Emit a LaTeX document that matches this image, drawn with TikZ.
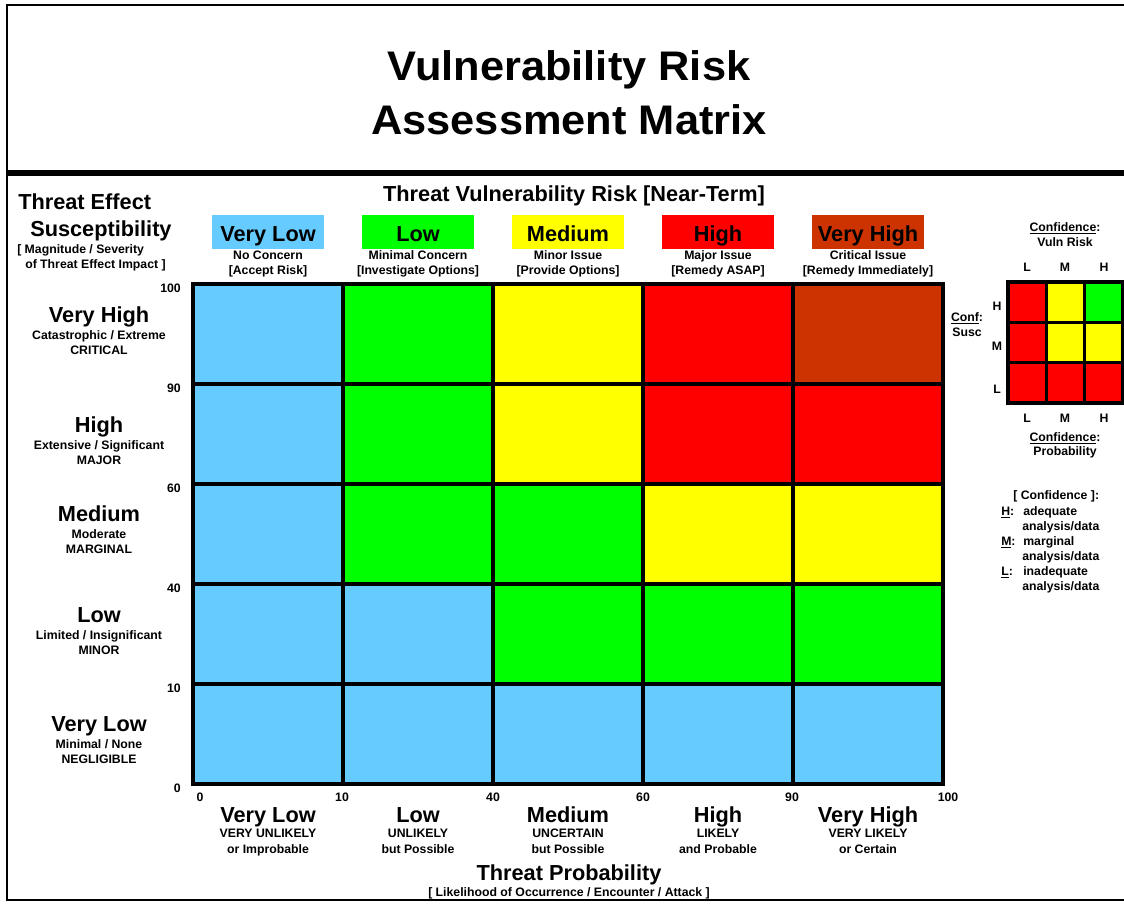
\documentclass[tikz,border=0pt]{standalone}
\usepackage{fontspec}
\setmainfont{Liberation Sans}
\newfontfamily\titlefont[FakeStretch=1.05]{Liberation Sans}
\usepackage{tikz}
\usetikzlibrary{positioning}

\definecolor{vlow}{RGB}{102,204,255}
\definecolor{low}{RGB}{0,255,0}
\definecolor{med}{RGB}{255,255,0}
\definecolor{high}{RGB}{255,0,0}
\definecolor{vhigh}{RGB}{204,51,0}

\newcommand{\bigtxt}{\fontsize{16.3}{19}\selectfont\bfseries}
\newcommand{\smalltxt}{\fontsize{9.2}{11.25}\selectfont\bfseries}
\newcommand{\ttltxt}{\titlefont\fontsize{31}{37}\selectfont\bfseries}

\tikzset{
  big/.style={font=\bigtxt,inner sep=0pt,anchor=base},
  small/.style={font=\smalltxt,inner sep=0pt,anchor=base},
  ttl/.style={font=\ttltxt,inner sep=0pt,anchor=base},
  riskbox/.style={minimum width=84pt,minimum height=25.5pt,inner sep=0pt},
  gridline/.style={line width=2.3pt,line cap=rect},
}

\begin{document}
\begin{tikzpicture}[x=0.75pt,y=-0.75pt]
\useasboundingbox (0,0) rectangle (1124,903);
% frame and title
\draw[line width=1.6pt] (1124,5) -- (7,5) -- (7,900) -- (1124,900);
\draw[line width=4.5pt] (7,173) -- (1124,173);
\node[ttl] (title1) at (569,80) {Vulnerability Risk};
\node[ttl] (title2) at (569,134) {Assessment Matrix};

% risk matrix cells
\foreach \r/\cl in {0/{vlow,low,med,high,vhigh},1/{vlow,low,med,high,high},2/{vlow,low,low,med,med},3/{vlow,vlow,low,low,low},4/{vlow,vlow,vlow,vlow,vlow}}
  \foreach \c [count=\k from 0] in \cl
    \fill[\c] (193+150*\k,284+100*\r) rectangle ++(150,100);
\foreach \i in {0,...,5}
  \draw[gridline] (193+150*\i,284) -- (193+150*\i,784);
\foreach \j in {0,...,5}
  \draw[gridline] (193,284+100*\j) -- (943,284+100*\j);

% axis numbers
\foreach \v [count=\j from 0] in {100,90,60,40,10,0}
  \node[small,anchor=base east] (ynum\j) at (181,292+100*\j) {\v};
\foreach \x/\v [count=\j] in {200/0,342/10,493/40,643/60,792/90,948/100}
  \node[small] (xnum\j) at (\x,801) {\v};

% risk header
\node[big] (riskhead) at (574,201) {Threat Vulnerability Risk [Near-Term]};
\foreach \x/\nm/\col/\lab/\ta/\tb in {268/vl/vlow/Very Low/No Concern/{[Accept Risk]},
    418/l/low/Low/Minimal Concern/{[Investigate Options]},
    568/m/med/Medium/Minor Issue/{[Provide Options]},
    718/h/high/High/Major Issue/{[Remedy ASAP]},
    868/vh/vhigh/Very High/Critical Issue/{[Remedy Immediately]}}{
  \node[riskbox,fill=\col] (box\nm) at (\x,231.5) {};
  \node[big] (lab\nm) at (\x,241) {\lab};
  \node[small] (suba\nm) at (\x,259) {\ta};
  \node[small] (subb\nm) at (\x,274) {\tb};
}

% susceptibility axis
\node[big,anchor=base west] (susc1) at (18,209) {Threat Effect};
\node[big,anchor=base west] (susc2) at (30,236) {Susceptibility};
\node[small,anchor=base west] (susc3) at (17,253) {[ Magnitude / Severity};
\node[small,anchor=base west] (susc4) at (25,268) {of Threat Effect Impact ]};
\foreach \y/\lab/\ta/\tb [count=\j] in {322/Very High/{Catastrophic / Extreme}/CRITICAL,
    432/High/{Extensive / Significant}/MAJOR,
    521/Medium/Moderate/MARGINAL,
    622/Low/{Limited / Insignificant}/MINOR,
    731/Very Low/{Minimal / None}/NEGLIGIBLE}{
  \node[big] (rlab\j) at (99,\y) {\lab};
  \node[small] (rsuba\j) at (99,\y+17) {\ta};
  \node[small] (rsubb\j) at (99,\y+32) {\tb};
}

% probability axis
\foreach \x/\lab/\ta/\tb [count=\j] in {268/Very Low/VERY UNLIKELY/or Improbable,
    418/Low/UNLIKELY/but Possible,
    568/Medium/UNCERTAIN/but Possible,
    718/High/LIKELY/and Probable,
    868/Very High/VERY LIKELY/or Certain}{
  \node[big] (plab\j) at (\x,822) {\lab};
  \node[small] (psuba\j) at (\x,837) {\ta};
  \node[small] (psubb\j) at (\x,853) {\tb};
}
\node[big] (probhead) at (569,880) {Threat Probability};
\node[small] (probsub) at (569,896) {[ Likelihood of Occurrence / Encounter / Attack ]};

% confidence matrix
\foreach \r/\cl in {0/{high,med,low},1/{high,med,med},2/{high,high,high}}
  \foreach \c [count=\k from 0] in \cl
    \fill[\c] (1008+38.33*\k,282+40.33*\r) rectangle ++(38.33,40.33);
\foreach \i in {0,...,3}{
  \draw[gridline] (1008+38.33*\i,282) -- (1008+38.33*\i,403);
  \draw[gridline] (1008,282+40.33*\i) -- (1123,282+40.33*\i);
}
\foreach \x/\v in {1027/L,1065/M,1104/H}{
  \node[small] (ctop\v) at (\x,271) {\v};
  \node[small] (cbot\v) at (\x,422) {\v};
}
\foreach \y/\v in {310/H,350/M,393/L}
  \node[small] (cside\v) at (997,\y) {\v};
\node[small] (cvr1) at (1065,231) {\underline{Confidence}:};
\node[small] (cvr2) at (1065,246) {Vuln Risk};
\node[small] (cpr1) at (1065,441) {\underline{Confidence}:};
\node[small] (cpr2) at (1065,455) {Probability};
\node[small] (csu1) at (967,321) {\underline{Conf}:};
\node[small] (csu2) at (967,336) {Susc};

% confidence legend
\node[small,anchor=base west] (leg) at (1013,499) {[ Confidence ]:};
\foreach \y/\v/\txt in {515/H/adequate,545/M/marginal,575/L/inadequate}{
  \node[small,anchor=base west] (leg\v) at (1001,\y) {\underline{\v}:};
  \node[small,anchor=base west] (legt\v) at (1023,\y) {\txt};
  \node[small,anchor=base west] (lega\v) at (1022,\y+15) {analysis/data};
}
\end{tikzpicture}
\end{document}
